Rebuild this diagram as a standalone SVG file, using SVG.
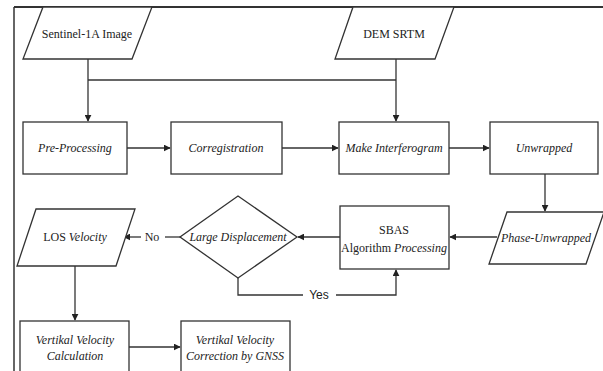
<svg xmlns="http://www.w3.org/2000/svg" width="603" height="371" viewBox="0 0 603 371">
<defs>
<marker id="ah" viewBox="0 0 10 10" refX="9" refY="5" markerWidth="7" markerHeight="7" orient="auto" markerUnits="userSpaceOnUse">
<path d="M0,0 L10,5 L0,10 z" fill="#222"/>
</marker>
<style>
.s{fill:#fff;stroke:#333;stroke-width:1.3}
.c{fill:none;stroke:#333;stroke-width:1.3}
.t{font-family:'Liberation Serif','Times New Roman','DejaVu Serif',serif;font-size:12px;fill:#222;text-anchor:middle;dominant-baseline:central}
.i{font-style:italic}
.y{font-family:'Liberation Sans',Arial,sans-serif;font-size:12px;fill:#222;text-anchor:middle;dominant-baseline:central}
</style>
</defs>
<rect width="603" height="371" fill="#fff"/>
<g id="frame">
<line x1="14" y1="7" x2="603" y2="7" stroke="#333" stroke-width="2"/>
<line x1="14" y1="7" x2="14" y2="371" stroke="#333" stroke-width="1.5"/>
</g>
<g id="connectors">
<path class="c" d="M88,59 V121" marker-end="url(#ah)"/>
<path class="c" d="M88,80 H396"/>
<path class="c" d="M396,59 V121" marker-end="url(#ah)"/>
<path class="c" d="M127,148 H170" marker-end="url(#ah)"/>
<path class="c" d="M282,148 H338" marker-end="url(#ah)"/>
<path class="c" d="M449,148 H489" marker-end="url(#ah)"/>
<path class="c" d="M545,174 V211" marker-end="url(#ah)"/>
<path class="c" d="M497,237 H450" marker-end="url(#ah)"/>
<path class="c" d="M340,237 H298" marker-end="url(#ah)"/>
<path class="c" d="M180,237 H165"/>
<path class="c" d="M141,237 H124" marker-end="url(#ah)"/>
<text class="t" x="152" y="237" font-family="Liberation Serif, serif">No</text>
<path class="c" d="M238,278 V295 H303"/>
<path class="c" d="M336,295 H396 V270" marker-end="url(#ah)"/>
<text class="y" x="319" y="295" font-family="Liberation Sans, sans-serif">Yes</text>
<path class="c" d="M75,266 V320" marker-end="url(#ah)"/>
<path class="c" d="M129,347 H180" marker-end="url(#ah)"/>
</g>
<g id="sentinel">
<polygon class="s" points="43,7 152,7 132,59 23,59"/>
<text class="t" x="87" y="34" font-family="Liberation Serif, serif">Sentinel-1A Image</text>
</g>
<g id="dem">
<polygon class="s" points="353,7 454,7 435,59 335,59"/>
<text class="t" x="394" y="34" font-family="Liberation Serif, serif">DEM SRTM</text>
</g>
<g id="preprocessing">
<rect class="s" x="23" y="122" width="104" height="52"/>
<text class="t i" x="75" y="148" font-family="Liberation Serif, serif">Pre-Processing</text>
</g>
<g id="corregistration">
<rect class="s" x="171" y="122" width="111" height="52"/>
<text class="t i" x="226" y="148" font-family="Liberation Serif, serif">Corregistration</text>
</g>
<g id="interferogram">
<rect class="s" x="339" y="122" width="110" height="52"/>
<text class="t i" x="394" y="148" font-family="Liberation Serif, serif">Make Interferogram</text>
</g>
<g id="unwrapped">
<rect class="s" x="490" y="122" width="108" height="52"/>
<text class="t i" x="544" y="148" font-family="Liberation Serif, serif">Unwrapped</text>
</g>
<g id="phaseunwrapped">
<polygon class="s" points="507,212 604,212 586,264 489,264"/>
<text class="t i" x="546" y="238" font-family="Liberation Serif, serif">Phase-Unwrapped</text>
</g>
<g id="sbas">
<rect class="s" x="340" y="206" width="109" height="63"/>
<text class="t" x="394" y="230" font-family="Liberation Serif, serif">SBAS</text>
<text class="t" x="394" y="248" font-family="Liberation Serif, serif">Algorithm <tspan class="i">Processing</tspan></text>
</g>
<g id="decision">
<polygon class="s" points="238,196 297,237 238,278 180,237"/>
<text class="t i" x="238" y="237" font-family="Liberation Serif, serif">Large Displacement</text>
</g>
<g id="los">
<polygon class="s" points="36,209 135,209 116,266 17,266"/>
<text class="t" x="75" y="237" font-family="Liberation Serif, serif">LOS <tspan class="i">Velocity</tspan></text>
</g>
<g id="vertcalc">
<rect class="s" x="20" y="321" width="109" height="60"/>
<text class="t i" x="75" y="340" font-family="Liberation Serif, serif">Vertikal Velocity</text>
<text class="t i" x="75" y="356" font-family="Liberation Serif, serif">Calculation</text>
</g>
<g id="vertcorr">
<rect class="s" x="181" y="321" width="109" height="60"/>
<text class="t i" x="235" y="340" font-family="Liberation Serif, serif">Vertikal Velocity</text>
<text class="t i" x="235" y="356" font-family="Liberation Serif, serif">Correction by GNSS</text>
</g>
</svg>
